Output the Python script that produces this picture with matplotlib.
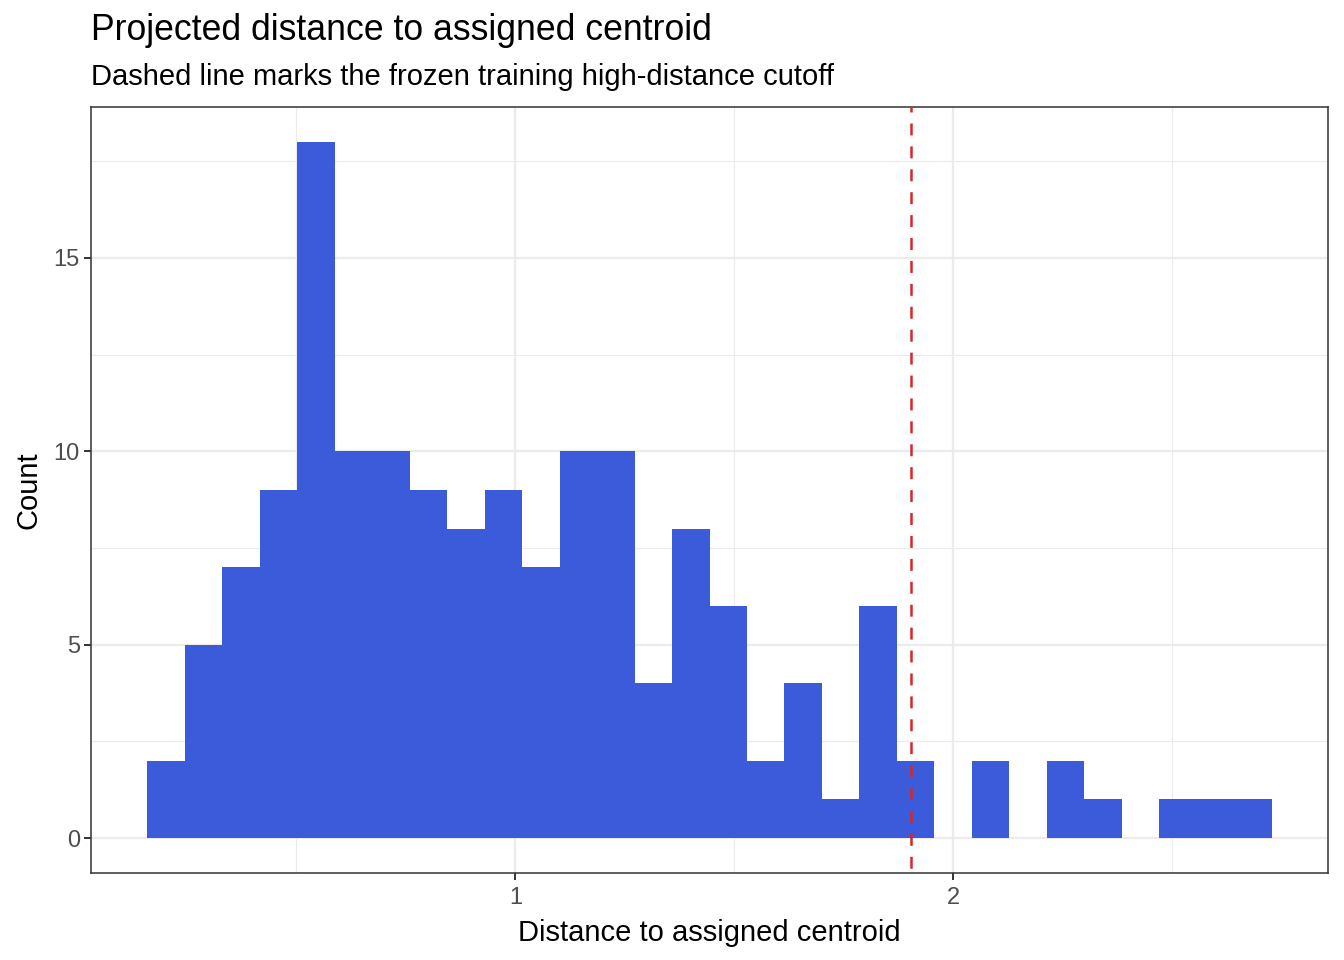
import matplotlib
matplotlib.use("Agg")
import matplotlib.pyplot as plt
import numpy as np

# histogram bins (30 bins)
bin_lo = 0.1595
bin_hi = 2.7267
counts = [2, 5, 7, 9, 18, 10, 10, 9, 8, 9,
          7, 10, 10, 4, 8, 6, 2, 4, 1, 6,
          2, 0, 2, 0, 2, 1, 0, 1, 1, 1]
cutoff = 1.902

title = "Projected distance to assigned centroid"
subtitle = "Dashed line marks the frozen training high-distance cutoff"
x_label = "Distance to assigned centroid"
y_label = "Count"

plt.rcParams['font.family'] = ['Liberation Sans', 'DejaVu Sans']
plt.rcParams['lines.scale_dashes'] = False

edges = np.linspace(bin_lo, bin_hi, len(counts) + 1)
widths = np.diff(edges)

fig = plt.figure(figsize=(13.44, 9.6), dpi=100)
ax = fig.add_axes([91 / 1344, 1 - 873 / 960, (1328 - 91) / 1344, (873 - 107) / 960])

ax.bar(edges[:-1], counts, width=widths, align='edge', color='#3B5BDB', linewidth=0, zorder=2)
# drawn top-down so the dash pattern starts at the panel top, like ggplot
ax.plot([cutoff, cutoff], [1, 0], transform=ax.get_xaxis_transform(),
        color='#D62728', linestyle=(5.0, (8.6, 7.9)), linewidth=1.8, zorder=3,
        solid_capstyle='butt', dash_capstyle='butt')

span = bin_hi - bin_lo
ax.set_xlim(bin_lo - 0.05 * span, bin_hi + 0.05 * span)
ymax = max(counts)
ax.set_ylim(-0.05 * ymax, ymax * 1.05)

ax.set_xticks([1, 2])
ax.set_xticks([0.5, 1.5, 2.5], minor=True)
ax.set_yticks([0, 5, 10, 15])
ax.set_yticks([2.5, 7.5, 12.5, 17.5], minor=True)
ax.grid(which='major', color='#EBEBEB', linewidth=1.6, zorder=0)
ax.grid(which='minor', color='#EBEBEB', linewidth=0.8, zorder=0)
ax.set_axisbelow(True)
ax.tick_params(which='minor', length=0)
ax.tick_params(which='major', length=5, width=1.4, color='#333333',
               labelsize=17, labelcolor='#4D4D4D', pad=3)
ax.tick_params(axis='x', pad=5)
for s in ax.spines.values():
    s.set_color('#333333')
    s.set_linewidth(1.1)

ax.set_xlabel(x_label, fontsize=21, labelpad=7)
ax.set_ylabel(y_label, fontsize=21, labelpad=8)

fig.text(91 / 1344, 1 - 31 / 960, title, fontsize=25.7, va='center', ha='left')
fig.text(91 / 1344, 1 - 77 / 960, subtitle, fontsize=21, va='center', ha='left')

fig.savefig("out.png", dpi=100)
